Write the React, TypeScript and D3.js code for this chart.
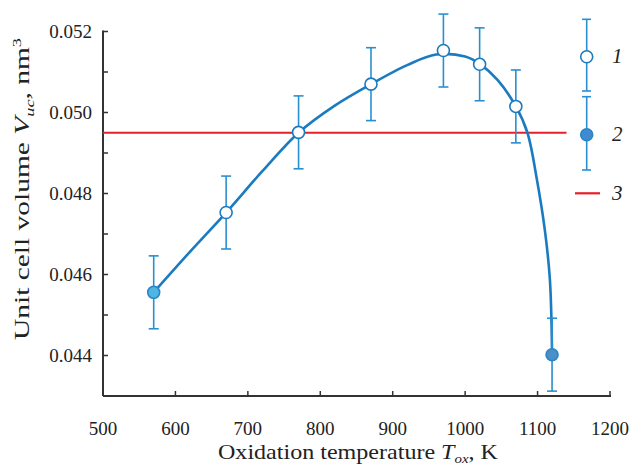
import React from "react";
import * as d3 from "d3";

const temps = [570, 670, 770, 870, 970, 1020, 1070, 1120];
const volumes = [0.04556, 0.04753, 0.04951, 0.0507, 0.05153, 0.05119, 0.05015, 0.04402];
const errors = [0.0009, 0.0009, 0.0009, 0.0009, 0.0009, 0.0009, 0.0009, 0.0009];
const kinds = ["2", "1", "1", "1", "1", "1", "1", "2"];

const fitTemps = [570, 620, 670, 720, 770, 820, 870, 920, 960, 1000, 1020, 1045, 1070, 1086, 1099, 1110, 1117, 1120];
const fitVolumes = [0.04556, 0.04656, 0.04753, 0.04855, 0.0495, 0.05017, 0.0507, 0.05117, 0.05143, 0.05138, 0.0512, 0.0508, 0.05015, 0.0495, 0.04835, 0.0471, 0.04588, 0.04402];

const refLevel = 0.0495;
const refEnd = 1140;

const xTicks = [500, 600, 700, 800, 900, 1000, 1100, 1200];
const yTicks = [0.043, 0.044, 0.045, 0.046, 0.047, 0.048, 0.049, 0.05, 0.051, 0.052];
const yLabels = [0.044, 0.046, 0.048, 0.05, 0.052];

const BLUE = "#1b7bc0";
const ERR = "#2a8fd0";
const RED = "#e5202a";
const AX = "#333";
const FONT = "Liberation Serif, Times New Roman, DejaVu Serif, serif";

export default function App() {
  const x = d3.scaleLinear().domain([500, 1200]).range([103, 610]);
  const y = d3.scaleLinear().domain([0.043, 0.052]).range([396, 31.5]);
  const line = d3
    .line<number>()
    .x((_, i) => x(fitTemps[i]))
    .y((v) => y(v))
    .curve(d3.curveCatmullRom.alpha(0.5));

  const cap = 5;
  const txt = { fontFamily: FONT };
  return (
    <svg width={632} height={466} style={{ position: "absolute", left: 0, top: 0, background: "#fff", fontFamily: FONT }}>
      {/* axes */}
      <line x1={x(500)} x2={x(500)} y1={y(0.043)} y2={y(0.052) - 1} stroke={AX} strokeWidth={2} />
      <line x1={x(500)} x2={x(1200) + 1} y1={y(0.043)} y2={y(0.043)} stroke={AX} strokeWidth={2} />
      {yTicks.map((t) => (
        <line key={t} x1={x(500)} x2={x(500) + 5} y1={y(t)} y2={y(t)} stroke={AX} strokeWidth={1.5} />
      ))}
      {xTicks.map((t) => (
        <line key={t} x1={x(t)} x2={x(t)} y1={y(0.043)} y2={y(0.043) - 5} stroke={AX} strokeWidth={1.5} />
      ))}
      {yLabels.map((t) => (
        <text key={t} style={txt} x={x(500) - 11} y={y(t) + 6} textAnchor="end" fontSize={19} fill="#222">
          {d3.format(".3f")(t)}
        </text>
      ))}
      {xTicks.map((t) => (
        <text key={t} style={txt} x={x(t)} y={435} textAnchor="middle" fontSize={19} fill="#222">
          {t}
        </text>
      ))}
      <text style={txt} x={218} y={459} fontSize={21} fill="#222" textLength={280} lengthAdjust="spacingAndGlyphs">
        Oxidation temperature <tspan fontStyle="italic">T</tspan>
        <tspan fontSize={13} dy={4} fontStyle="italic">ox</tspan>
        <tspan dy={-4}>, K</tspan>
      </text>
      <text style={txt} transform={`translate(29,340) rotate(-90)`} fontSize={21} fill="#222" textLength={302} lengthAdjust="spacingAndGlyphs">
        Unit cell volume <tspan fontStyle="italic">V</tspan>
        <tspan fontSize={13} dy={5} fontStyle="italic">uc</tspan>
        <tspan dy={-5}>, nm</tspan>
        <tspan fontSize={13} dy={-8}>3</tspan>
      </text>

      {/* reference line */}
      <line x1={x(500)} x2={x(refEnd)} y1={y(refLevel)} y2={y(refLevel)} stroke={RED} strokeWidth={2.2} />

      {/* fit curve */}
      <path d={line(fitVolumes) || ""} fill="none" stroke={BLUE} strokeWidth={2.6} />

      {/* error bars and points */}
      {temps.map((t, i) => {
        const cx = x(t);
        const top = y(volumes[i] + errors[i]);
        const bot = y(volumes[i] - errors[i]);
        return (
          <g key={t}>
            <line x1={cx} x2={cx} y1={top} y2={bot} stroke={ERR} strokeWidth={1.6} />
            <line x1={cx - cap} x2={cx + cap} y1={top} y2={top} stroke={ERR} strokeWidth={1.6} />
            <line x1={cx - cap} x2={cx + cap} y1={bot} y2={bot} stroke={ERR} strokeWidth={1.6} />
            <circle
              cx={cx}
              cy={y(volumes[i])}
              r={6}
              fill={kinds[i] === "1" ? "#fff" : i === 0 ? "#4fb6e2" : "#4a8fc8"}
              stroke={kinds[i] === "1" ? BLUE : "#2a85c8"}
              strokeWidth={1.6}
            />
          </g>
        );
      })}

      {/* legend */}
      <g>
        <line x1={586.7} x2={586.7} y1={19.3} y2={91} stroke={ERR} strokeWidth={1.6} />
        <line x1={582} x2={591} y1={19.3} y2={19.3} stroke={ERR} strokeWidth={1.6} />
        <line x1={582} x2={591} y1={91} y2={91} stroke={ERR} strokeWidth={1.6} />
        <circle cx={586.7} cy={56.7} r={6} fill="#fff" stroke={BLUE} strokeWidth={1.6} />
        <text style={txt} x={612} y={63} fontSize={21} fontStyle="italic" fill="#222">1</text>

        <line x1={586.7} x2={586.7} y1={96.7} y2={170} stroke={ERR} strokeWidth={1.6} />
        <line x1={582} x2={591} y1={96.7} y2={96.7} stroke={ERR} strokeWidth={1.6} />
        <line x1={582} x2={591} y1={170} y2={170} stroke={ERR} strokeWidth={1.6} />
        <circle cx={586.7} cy={134.7} r={6} fill="#3f8ad0" stroke="#2a85c8" strokeWidth={1.6} />
        <text style={txt} x={612} y={141} fontSize={21} fontStyle="italic" fill="#222">2</text>

        <line x1={575} x2={600} y1={193.3} y2={193.3} stroke={RED} strokeWidth={2.2} />
        <text style={txt} x={612} y={200} fontSize={21} fontStyle="italic" fill="#222">3</text>
      </g>
    </svg>
  );
}
